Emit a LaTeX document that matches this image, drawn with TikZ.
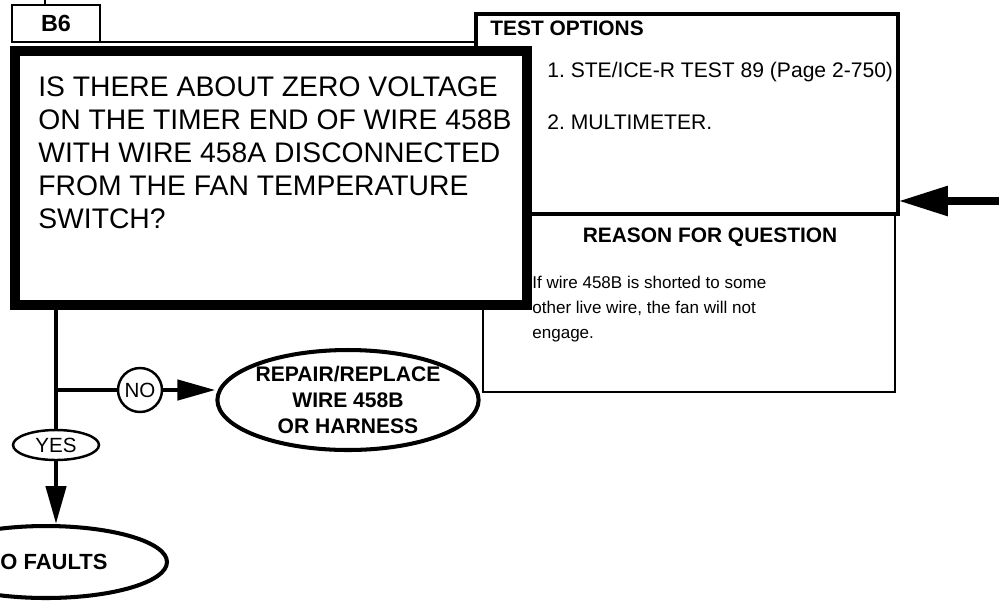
\documentclass[tikz,border=0pt]{standalone}
\usepackage{fontspec}
\setmainfont{Liberation Sans}
\usetikzlibrary{shapes.geometric,arrows.meta,calc}
\frenchspacing
\tikzstyle{thinbox} = [rectangle, draw=black, line width=1.1pt, inner sep=0pt, outer sep=0pt]
\tikzstyle{optbox} = [rectangle, draw=black, line width=2.4pt, inner sep=0pt, outer sep=0pt]
\tikzstyle{qbox} = [rectangle, draw=black, fill=white, line width=5.7pt, inner sep=0pt, outer sep=0pt]
\tikzstyle{boxtext} = [anchor=base west, align=left, inner sep=0pt]
\tikzstyle{endpoint} = [ellipse, draw=black, fill=white, line width=2.3pt, inner sep=0pt, align=center, font=\bfseries\fontsize{12}{14.7}\selectfont]
\tikzstyle{answer} = [ellipse, draw=black, fill=white, line width=1.4pt, inner sep=0pt, font=\fontsize{11.7}{14}\selectfont]
\tikzstyle{link} = [line width=2.6pt]
\tikzstyle{arrow} = [line width=2.6pt, -{Triangle[length=0.76cm,width=0.4cm]}]

\begin{document}
\begin{tikzpicture}[x=0.02cm, y=-0.02cm]
\useasboundingbox (0,0) rectangle (999,602);
\clip (0,0) rectangle (999,602);

% test options and reason panels
\node (topts) [optbox, minimum width=8.44cm, minimum height=4cm] at (687,114) {};
\node (reason) [thinbox, minimum width=8.24cm, minimum height=3.56cm] at (689,303) {};
\node (toptstitle) [boxtext, font=\bfseries\fontsize{11.9}{14}\selectfont] at (490,35) {TEST OPTIONS};
\node (opt1) [boxtext, font=\fontsize{12}{14}\selectfont] at (547,77) {1. STE/ICE-R TEST 89 (Page 2-750)};
\node (opt2) [boxtext, font=\fontsize{12}{14}\selectfont] at (547,129) {2. MULTIMETER.};
\node (reasontitle) [anchor=base, inner sep=0pt, font=\bfseries\fontsize{11.9}{14}\selectfont] at (710,242) {REASON FOR QUESTION};
% base of a multi-line node is its last line
\node (reasontext) [boxtext, font=\fontsize{9.7}{14.2}\selectfont] at (532,338) {If wire 458B is shorted to some\\other live wire, the fan will not\\engage.};

% step label and question
\coordinate (intop) at (45,0);
\node (b6) [thinbox, minimum width=1.76cm, minimum height=0.74cm, font=\bfseries\fontsize{13.3}{15}\selectfont] at (56,23.5) {B6};
\draw [line width=1.1pt] (intop) -- (intop |- b6.north);
\draw [line width=1.1pt] (b6.south east) -- (topts.west |- b6.south east);
\node (question) [qbox, minimum width=10.24cm, minimum height=5.08cm] at (271,178) {};
\node (qtext) [boxtext, font=\fontsize{16.1}{18.7}\selectfont] at (38,228) {IS THERE ABOUT ZERO VOLTAGE\\ON THE TIMER END OF WIRE 458B\\WITH WIRE 458A DISCONNECTED\\FROM THE FAN TEMPERATURE\\SWITCH?};

% entry from the right
\coordinate (fromright) at (1010,201);
\draw [line width=5pt, -{Triangle[length=1cm,width=0.56cm]}] (fromright) -- (topts.east |- fromright);

% answers
\coordinate (split) at (56,390);
\node (yes) [answer, minimum width=1.72cm, minimum height=0.6cm] at (56,445) {YES};
\node (no) [answer, circle, minimum size=0.88cm] at (140,390) {NO};
\node (repair) [endpoint, minimum width=5cm, minimum height=2cm] at (348,400) {REPAIR/REPLACE\\WIRE 458B\\OR HARNESS};
\node (nofaults) [endpoint, minimum width=4.84cm, minimum height=1.44cm, font=\bfseries\fontsize{12.5}{15}\selectfont] at (46,562) {NO FAULTS};
\draw [link] (question.south -| yes) -- (yes);
\draw [link] (split) -- (no);
\draw [arrow] (no) -- (no -| repair.west);
\draw [arrow] (yes) -- (yes |- nofaults.north);

\end{tikzpicture}
\end{document}
